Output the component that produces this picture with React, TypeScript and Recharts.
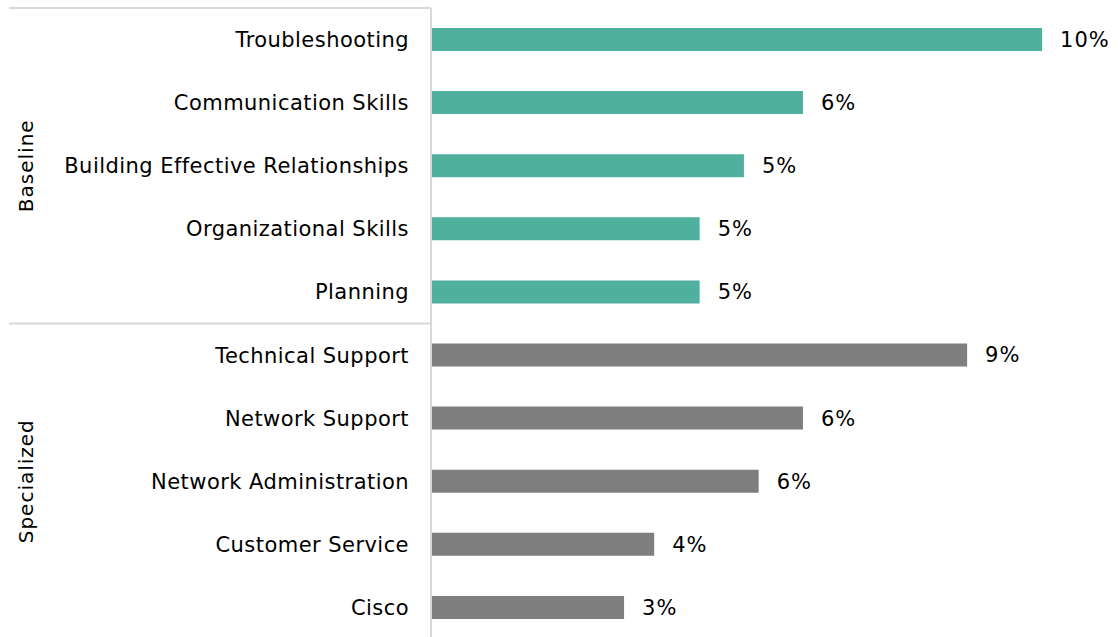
import { BarChart, Bar, XAxis, YAxis, LabelList, Cell } from "recharts";

const skills = [
  "Troubleshooting",
  "Communication Skills",
  "Building Effective Relationships",
  "Organizational Skills",
  "Planning",
  "Technical Support",
  "Network Support",
  "Network Administration",
  "Customer Service",
  "Cisco",
];
const shares = [10.35, 6.3, 5.3, 4.55, 4.55, 9.08, 6.3, 5.55, 3.78, 3.27];
const groups = ["Baseline", "Baseline", "Baseline", "Baseline", "Baseline",
  "Specialized", "Specialized", "Specialized", "Specialized", "Specialized"];

const COLORS: Record<string, string> = { Baseline: "#4fb09d", Specialized: "#7f7f7f" };
const FONT = "'DejaVu Sans', sans-serif";
const GRID = "#d9d9d9";

const data = skills.map((skill, i) => ({ skill, share: shares[i], group: groups[i] }));

function GroupTick(props: any) {
  const { x, y, payload, index } = props;
  const half = payload.offset ?? 157.75;
  return (
    <g>
      {index === 0 && (
        <line x1={9} x2={431} y1={y - half} y2={y - half} stroke={GRID} strokeWidth={2} />
      )}
      {index === 0 && (
        <line x1={9} x2={431} y1={y + half} y2={y + half} stroke={GRID} strokeWidth={2} />
      )}
      <text
        x={x - 12}
        y={y}
        transform={`rotate(-90, ${x - 12}, ${y})`}
        textAnchor="middle"
        dominantBaseline="central"
        fontFamily={FONT}
        fontSize={20}
        letterSpacing={1}
        fill="#000"
      >
        {payload.value}
      </text>
    </g>
  );
}

export default function App() {
  return (
    <div style={{ position: "absolute", left: 0, top: 0 }}>
      <BarChart
        width={1118}
        height={639}
        data={data}
        layout="vertical"
        margin={{ top: 8, right: 8, bottom: 0, left: 0 }}
        barSize={23}
      >
        <XAxis type="number" domain={[0, 11.5]} hide />
        <YAxis
          type="category"
          dataKey="skill"
          width={391}
          axisLine={{ stroke: GRID, strokeWidth: 2 }}
          tickLine={false}
          tickSize={0}
          tickMargin={22}
          interval={0}
          tick={{ fill: "#000", fontFamily: FONT, fontSize: 21, letterSpacing: 0.45 }}
        />
        <YAxis
          yAxisId="grp"
          type="category"
          dataKey="group"
          allowDuplicatedCategory={false}
          width={40}
          interval={0}
          axisLine={false}
          tickLine={false}
          tickSize={0}
          tick={<GroupTick />}
        />
        <Bar dataKey="share" isAnimationActive={false}>
          {data.map((d) => (
            <Cell key={d.skill} fill={COLORS[d.group]} />
          ))}
          <LabelList
            dataKey="share"
            position="right"
            offset={18}
            formatter={(v: any) => `${Math.round(Number(v))}%`}
            style={{ fill: "#000", fontFamily: FONT, fontSize: 21, letterSpacing: 1 }}
          />
        </Bar>
      </BarChart>
    </div>
  );
}
